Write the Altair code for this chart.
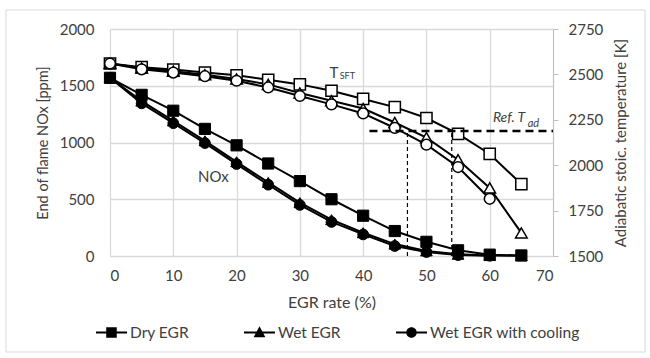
import altair as alt
import pandas as pd

# ---------------- data ----------------
egr = [0, 5, 10, 15, 20, 25, 30, 35, 40, 45, 50, 55, 60, 65]
series_names = ["Dry EGR", "Wet EGR", "Wet EGR with cooling"]

nox_dry = [1570, 1420, 1280, 1120, 975, 815, 660, 500, 355, 220, 125, 50, 12, 5]
nox_wet = [1570, 1365, 1190, 1015, 830, 648, 470, 320, 205, 105, 45, 15, 4, 2]
nox_cool = [1570, 1345, 1170, 995, 810, 628, 450, 300, 190, 88, 35, 8, 2]

t_dry = [2560, 2540, 2527, 2510, 2495, 2470, 2445, 2410, 2365, 2320, 2260, 2172, 2062, 1896]
t_wet = [2560, 2535, 2518, 2498, 2475, 2445, 2398, 2355, 2312, 2235, 2152, 2030, 1875, 1627]
t_cool = [2560, 2528, 2510, 2490, 2465, 2428, 2381, 2335, 2285, 2205, 2113, 1990, 1815]

ref_tad = 2188
ref_x_start, ref_x_end = 41, 70
cross_x = [47, 54]

x_ticks = [0, 10, 20, 30, 40, 50, 60, 70]
nox_ticks = [0, 500, 1000, 1500, 2000]
t_ticks = [1500, 1750, 2000, 2250, 2500, 2750]

FONT = "Lato"
TXT = "#404040"
GRID = "#d9d9d9"


def frame(vals, name):
    return pd.DataFrame({"egr": egr[:len(vals)], "v": vals, "series": name})


nox_df = pd.concat([frame(nox_dry, series_names[0]), frame(nox_wet, series_names[1]),
                    frame(nox_cool, series_names[2])])
t_df = pd.concat([frame(t_dry, series_names[0]), frame(t_wet, series_names[1]),
                  frame(t_cool, series_names[2])])

x_enc = alt.X("egr:Q", scale=alt.Scale(domain=[0, 70], nice=False),
              axis=alt.Axis(values=x_ticks, title="EGR rate (%)", grid=True, ticks=False,
                            labelPadding=12, titlePadding=11, titleFontSize=16,
                            domainColor=GRID, format="d"))
y_left = alt.Y("v:Q", scale=alt.Scale(domain=[0, 2000], nice=False),
               axis=alt.Axis(values=nox_ticks, title="End of flame NOx  [ppm]", grid=True,
                             ticks=False, domain=False, labelPadding=16, titlePadding=9,
                             titleFontSize=14.5, orient="left", format="d"))
y_right = alt.Y("v:Q", scale=alt.Scale(domain=[1500, 2750], nice=False),
                axis=alt.Axis(values=t_ticks, title="Adiabatic stoic. temperature [K]",
                              grid=False, ticks=True, tickSize=5, tickColor="#bfbfbf",
                              domainColor="#bfbfbf", labelPadding=10, titlePadding=11,
                              titleAngle=270, titleBaseline="top",
                              orient="right", format="d"))

shapes = {"Dry EGR": "square", "Wet EGR": "triangle-up", "Wet EGR with cooling": "circle"}
sizes = {"Dry EGR": 125, "Wet EGR": 135, "Wet EGR with cooling": 115}

# ---------- left (NOx) group ----------
nox_lines = alt.Chart(nox_df).mark_line(color="black", strokeWidth=2).encode(
    x=x_enc, y=y_left, detail="series:N")
nox_pts = [
    alt.Chart(nox_df[nox_df.series == s]).mark_point(
        shape=shapes[s], filled=True, fill="black", stroke="black", strokeWidth=1,
        size=sizes[s], opacity=1).encode(x=x_enc, y=y_left)
    for s in series_names
]
nox_label = alt.Chart(pd.DataFrame({"egr": [13.9], "v": [696], "t": ["NOx"]})).mark_text(
    align="left", baseline="middle", font=FONT, fontSize=15, color=TXT).encode(
    x=x_enc, y=y_left, text="t:N")

legend_paths = [
    "M-1,-0.065H1V0.065H-1ZM-0.34,-0.34H0.34V0.34H-0.34Z",
    "M-1,-0.065H1V0.065H-1ZM0,-0.4L0.38,0.3L-0.38,0.3Z",
    "M-1,-0.065H1V0.065H-1ZM0.34,0A0.34,0.34,0,1,1,-0.34,0A0.34,0.34,0,1,1,0.34,0Z",
]
legend_layer = alt.Chart(pd.DataFrame({"series": series_names, "egr": [0, 0, 0]})).mark_point(
    filled=True, fill="black", opacity=1).encode(
    shape=alt.Shape("series:N", scale=alt.Scale(domain=series_names, range=legend_paths),
                    legend=alt.Legend(title=None, orient="none", direction="horizontal",
                                      legendX=-14, legendY=288, columns=3,
                                      symbolSize=961, symbolStrokeWidth=0,
                                      symbolFillColor="black",
                                      labelFont=FONT, labelFontSize=15.5, labelColor=TXT,
                                      labelOffset=3, columnPadding=55))
).transform_filter("datum.egr < -100")

border = alt.Chart(pd.DataFrame({"a": [0]})).mark_rect(
    fill="white", fillOpacity=0, stroke=GRID, strokeWidth=1).encode(
    x=alt.value(-104), x2=alt.value(535), y=alt.value(-19), y2=alt.value(323))

left = alt.layer(border, nox_lines, *nox_pts, nox_label, legend_layer)

# ---------- right (temperature) group ----------
t_lines = alt.Chart(t_df).mark_line(color="black", strokeWidth=2).encode(
    x=x_enc, y=y_right, detail="series:N")
t_pts = [
    alt.Chart(t_df[t_df.series == s]).mark_point(
        shape=shapes[s], filled=True, fill="white", stroke="black", strokeWidth=1.5,
        size=sizes[s], opacity=1).encode(x=x_enc, y=y_right)
    for s in series_names
]
ref_h = alt.Chart(pd.DataFrame({"egr": [ref_x_start], "e2": [ref_x_end], "v": [ref_tad]})).mark_rule(
    color="black", strokeWidth=2.5, strokeDash=[8, 5]).encode(x=x_enc, x2="e2:Q", y=y_right)
ref_v = alt.Chart(pd.DataFrame({"egr": cross_x, "v": [1500, 1500], "v2": [ref_tad, ref_tad]})).mark_rule(
    color="black", strokeWidth=1.2, strokeDash=[4, 3]).encode(x=x_enc, y=y_right, y2="v2:Q")

tsft_main = alt.Chart(pd.DataFrame({"egr": [34.7], "v": [2510], "t": ["T"]})).mark_text(
    align="left", baseline="middle", font=FONT, fontSize=15, color=TXT).encode(
    x=x_enc, y=y_right, text="t:N")
tsft_sub = alt.Chart(pd.DataFrame({"egr": [36.3], "v": [2492], "t": ["SFT"]})).mark_text(
    align="left", baseline="middle", font=FONT, fontSize=9, color=TXT).encode(
    x=x_enc, y=y_right, text="t:N")
ref_main = alt.Chart(pd.DataFrame({"egr": [60.5], "v": [2260], "t": ["Ref. T"]})).mark_text(
    align="left", baseline="middle", font=FONT, fontSize=14, fontStyle="italic", color=TXT).encode(
    x=x_enc, y=y_right, text="t:N")
ref_sub = alt.Chart(pd.DataFrame({"egr": [66.0], "v": [2228], "t": ["ad"]})).mark_text(
    align="left", baseline="middle", font=FONT, fontSize=11, fontStyle="italic", color=TXT).encode(
    x=x_enc, y=y_right, text="t:N")

right = alt.layer(t_lines, *t_pts, ref_h, ref_v, tsft_main, tsft_sub, ref_main, ref_sub)

chart = alt.layer(left, right).resolve_scale(y="independent").properties(
    width=443, height=227,
    padding={"left": 110, "top": 29, "right": 97, "bottom": 102},
    autosize=alt.AutoSizeParams(type="none"),
    background="white",
).configure_view(stroke=None).configure_axis(
    labelFont=FONT, labelFontSize=15, labelColor=TXT,
    titleFont=FONT, titleFontSize=15, titleColor=TXT, titleFontWeight="normal",
    gridColor=GRID, gridWidth=1.3,
)

chart.save("out.html", embed_options={"renderer": "svg", "actions": False})
